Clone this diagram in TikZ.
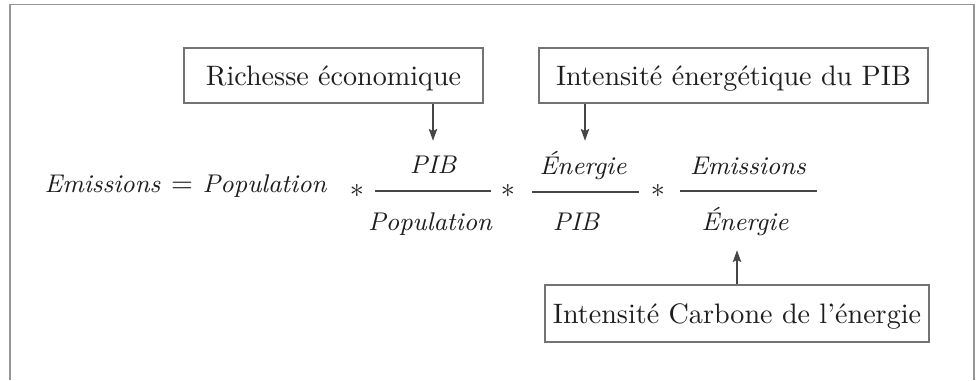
\documentclass[tikz,border=0pt]{standalone}
\usetikzlibrary{positioning,arrows.meta}
\definecolor{framegray}{RGB}{150,150,150}
\definecolor{boxgray}{RGB}{115,115,115}
\definecolor{arrowgray}{RGB}{70,70,70}
\definecolor{textdark}{RGB}{30,30,30}
\tikzset{
  infobox/.style={rectangle, draw=boxgray, line width=0.5pt, text=textdark,
    font=\fontsize{10}{12}\selectfont, text height=0.683em, text depth=0pt,
    minimum height=55*0.0125cm, inner sep=0pt},
  term/.style={inner sep=0pt, text=textdark, font=\fontsize{9.1}{11}\selectfont\itshape},
  opstar/.style={inner sep=0pt, text=textdark, font=\fontsize{9.6}{11}\selectfont},
  fracbar/.style={draw=arrowgray, line width=0.5pt},
  arr/.style={draw=arrowgray, line width=0.45pt, -{Stealth[length=4.2pt,width=3pt,inset=0.8pt]}}
}
\begin{document}
\begin{tikzpicture}[x=0.0125cm, y=-0.0125cm]
    \useasboundingbox (0,0) rectangle (978,380);
    % open frame
    \draw[framegray, line width=0.55pt] (10,380) -- (10,4.5) -- (974,4.5) -- (974,380);

    % boxes
    \node[infobox, minimum width=299*0.0125cm] (rich) at (333.5,75.5) {Richesse économique};
    \node[infobox, minimum width=389*0.0125cm] (inten) at (733.5,75.5) {Intensité énergétique du PIB};
    \node[infobox, minimum width=384*0.0125cm, minimum height=57*0.0125cm] (carb) at (737,313.5) {Intensité Carbone de l’énergie};

    % equation
    \node[term, anchor=base west] (emis) at (44,192) {Emissions};
    \node[opstar, anchor=base] (eq) at (182,192) {$=$};
    \node[term, anchor=base west] (pop) at (202,192) {Population};

    \node[opstar] (star1) at (357,191) {$\ast$};
    \node[term, anchor=base] (num1) at (433,173) {PIB};
    \node[term, anchor=base] (den1) at (430,230) {Population};
    \draw[fracbar] (375,191) -- (491,191);

    \node[opstar] (star2) at (508,191) {$\ast$};
    \node[term, anchor=base] (num2) at (583,174) {Énergie};
    \node[term, anchor=base] (den2) at (576,230) {PIB};
    \draw[fracbar] (532,192) -- (639,192);

    \node[opstar] (star3) at (658,191) {$\ast$};
    \node[term, anchor=base] (num3) at (748,174) {Emissions};
    \node[term, anchor=base] (den3) at (745,230) {Énergie};
    \draw[fracbar] (680,191) -- (817,191);

    % arrows
    \draw[arr] (rich.south -| num1) -- +(0,37);
    \draw[arr] (inten.south -| 585,0) -- +(0,37);
    \draw[arr] (carb.north) -- +(0,-34);
\end{tikzpicture}
\end{document}
